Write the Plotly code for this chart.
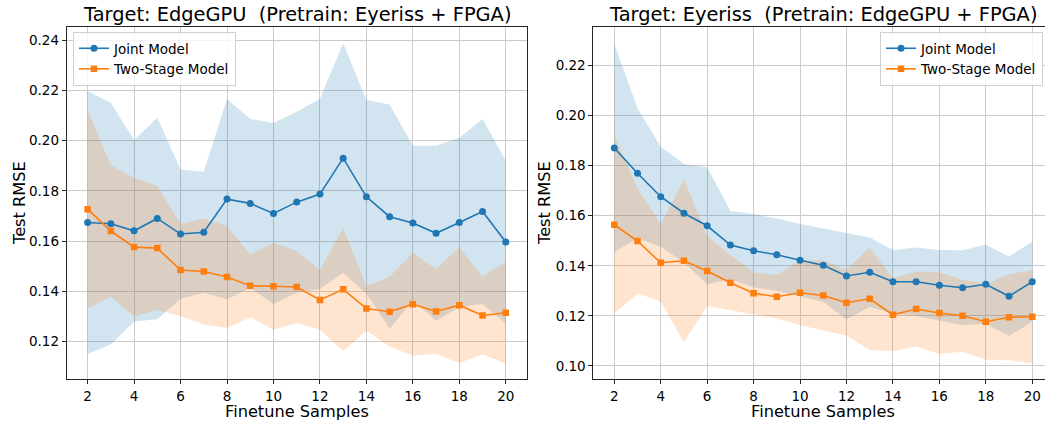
import plotly.graph_objects as go

# ---------------- data ----------------
samples = list(range(2, 21))

# Left panel: Target EdgeGPU
edge_joint_mean = [0.1674, 0.1669, 0.1641, 0.1690, 0.1628, 0.1635, 0.1767, 0.1750, 0.1710, 0.1755,
                   0.1787, 0.1930, 0.1776, 0.1697, 0.1672, 0.1631, 0.1674, 0.1718, 0.1596]
edge_joint_std = [0.0523, 0.0481, 0.0361, 0.0401, 0.0257, 0.0241, 0.0398, 0.0336, 0.0360, 0.0360,
                  0.0378, 0.0457, 0.0385, 0.0446, 0.0307, 0.0348, 0.0337, 0.0368, 0.0324]
edge_two_mean = [0.1727, 0.1640, 0.1576, 0.1572, 0.1485, 0.1479, 0.1457, 0.1422, 0.1420, 0.1417,
                 0.1366, 0.1408, 0.1332, 0.1319, 0.1349, 0.1320, 0.1345, 0.1304, 0.1315]
edge_two_std = [0.0394, 0.0262, 0.0276, 0.0247, 0.0183, 0.0211, 0.0203, 0.0125, 0.0173, 0.0144,
                0.0119, 0.0245, 0.0089, 0.0139, 0.0204, 0.0169, 0.0230, 0.0154, 0.0203]

# Right panel: Target Eyeriss
eye_joint_mean = [0.1871, 0.1770, 0.1676, 0.1610, 0.1560, 0.1483, 0.1460, 0.1444, 0.1422, 0.1402,
                  0.1359, 0.1374, 0.1336, 0.1336, 0.1322, 0.1312, 0.1326, 0.1278, 0.1336]
eye_joint_std = [0.0416, 0.0260, 0.0200, 0.0197, 0.0234, 0.0136, 0.0147, 0.0145, 0.0145, 0.0147,
                 0.0173, 0.0139, 0.0127, 0.0137, 0.0141, 0.0150, 0.0158, 0.0159, 0.0160]
eye_two_mean = [0.1564, 0.1499, 0.1412, 0.1420, 0.1379, 0.1332, 0.1290, 0.1276, 0.1292, 0.1281,
                0.1252, 0.1268, 0.1204, 0.1227, 0.1211, 0.1200, 0.1176, 0.1194, 0.1196]
eye_two_std = [0.0355, 0.0210, 0.0155, 0.0326, 0.0140, 0.0110, 0.0084, 0.0087, 0.0130, 0.0140,
               0.0132, 0.0205, 0.0146, 0.0150, 0.0163, 0.0144, 0.0152, 0.0172, 0.0186]

titles = ["Target: EdgeGPU\u00a0\u00a0(Pretrain: Eyeriss + FPGA)",
          "Target: Eyeriss\u00a0\u00a0(Pretrain: EdgeGPU + FPGA)"]
series_names = ["Joint Model", "Two-Stage Model"]
x_ticks = list(range(2, 21, 2))

# ---------------- styling ----------------
W, H = 1045, 423
FONT = "DejaVu Sans"
BLUE, ORANGE = "#1f77b4", "#ff7f0e"
BLUE_FILL, ORANGE_FILL = "rgba(31,119,180,0.2)", "rgba(255,127,14,0.2)"
GRID = "#cbcbcb"
SPINE = "#262626"


def px(v):
    return v / W


def py(v):
    return 1 - v / H


fig = go.Figure()

panels = [
    dict(xa="x", ya="y", legend="legend",
         jm=edge_joint_mean, js=edge_joint_std, tm=edge_two_mean, ts=edge_two_std),
    dict(xa="x2", ya="y2", legend="legend2",
         jm=eye_joint_mean, js=eye_joint_std, tm=eye_two_mean, ts=eye_two_std),
]

for p in panels:
    bands = [(p["jm"], p["js"], BLUE_FILL), (p["tm"], p["ts"], ORANGE_FILL)]
    for mean, std, fc in bands:
        up = [m + s for m, s in zip(mean, std)]
        lo = [m - s for m, s in zip(mean, std)]
        fig.add_trace(go.Scatter(
            x=samples + samples[::-1], y=up + lo[::-1],
            fill="toself", fillcolor=fc, line=dict(width=0),
            mode="lines", hoverinfo="skip", showlegend=False,
            xaxis=p["xa"], yaxis=p["ya"]))
    fig.add_trace(go.Scatter(
        x=samples, y=p["jm"], name=series_names[0], mode="lines+markers",
        line=dict(color=BLUE, width=1.6), marker=dict(symbol="circle", size=7, color=BLUE),
        xaxis=p["xa"], yaxis=p["ya"], legend=p["legend"]))
    fig.add_trace(go.Scatter(
        x=samples, y=p["tm"], name=series_names[1], mode="lines+markers",
        line=dict(color=ORANGE, width=1.6), marker=dict(symbol="square", size=6.5, color=ORANGE),
        xaxis=p["xa"], yaxis=p["ya"], legend=p["legend"]))

tickfont = dict(family=FONT, size=13.5, color="black")
common_x = dict(tickvals=x_ticks, showgrid=True, gridcolor=GRID, gridwidth=1,
                showline=True, linecolor=SPINE, linewidth=1, mirror=True,
                ticks="outside", ticklen=4, tickcolor=SPINE, tickfont=tickfont,
                zeroline=False, automargin=False)
common_y = dict(dtick=0.02, tick0=0, tickformat=".2f", showgrid=True, gridcolor=GRID,
                gridwidth=1, showline=True, linecolor=SPINE, linewidth=1,
                ticks="outside", ticklen=4, tickcolor=SPINE, tickfont=tickfont,
                zeroline=False, automargin=False)

legend_style = dict(xanchor="left", yanchor="top",
                    bgcolor="rgba(255,255,255,0.8)", bordercolor="#d0d0d0", borderwidth=1,
                    font=dict(family=FONT, size=13.5, color="black"), tracegroupgap=0)

y_dom = [py(379.3), py(26.7)]
fig.update_layout(
    width=W, height=H,
    margin=dict(l=0, r=0, t=0, b=0, autoexpand=False),
    paper_bgcolor="white", plot_bgcolor="white",
    font=dict(family=FONT, color="black"),
    xaxis=dict(domain=[px(66.7), px(526.7)], range=[1.1, 20.9], anchor="y", **common_x),
    yaxis=dict(domain=y_dom, range=[0.1050, 0.2453], anchor="x", mirror=True, **common_y),
    xaxis2=dict(domain=[px(593.4), 1.0], range=[1.1, 20.55], anchor="y2", **common_x),
    yaxis2=dict(domain=y_dom, range=[0.0946, 0.2356], anchor="x2", mirror=False, **common_y),
    legend=dict(x=px(73), y=py(32), **legend_style),
    legend2=dict(x=px(880), y=py(32), **legend_style),
    showlegend=True,
)

annotations = []
centers = [(66.7 + 526.7) / 2, (593.4 + 1053) / 2]
ylab_x = [19, 544]
for i in range(2):
    annotations.append(dict(text=titles[i], x=px(centers[i]), y=py(14), xref="paper", yref="paper",
                            xanchor="center", yanchor="middle", showarrow=False,
                            font=dict(family=FONT, size=19.4, color="black")))
    annotations.append(dict(text="Finetune Samples", x=px(centers[i]), y=py(411), xref="paper",
                            yref="paper", xanchor="center", yanchor="middle", showarrow=False,
                            font=dict(family=FONT, size=16.2, color="black")))
    annotations.append(dict(text="Test RMSE", x=px(ylab_x[i]), y=py(203), xref="paper",
                            yref="paper", xanchor="center", yanchor="middle", showarrow=False,
                            textangle=-90, font=dict(family=FONT, size=16.2, color="black")))
fig.update_layout(annotations=annotations)

fig.write_html("out.html")
